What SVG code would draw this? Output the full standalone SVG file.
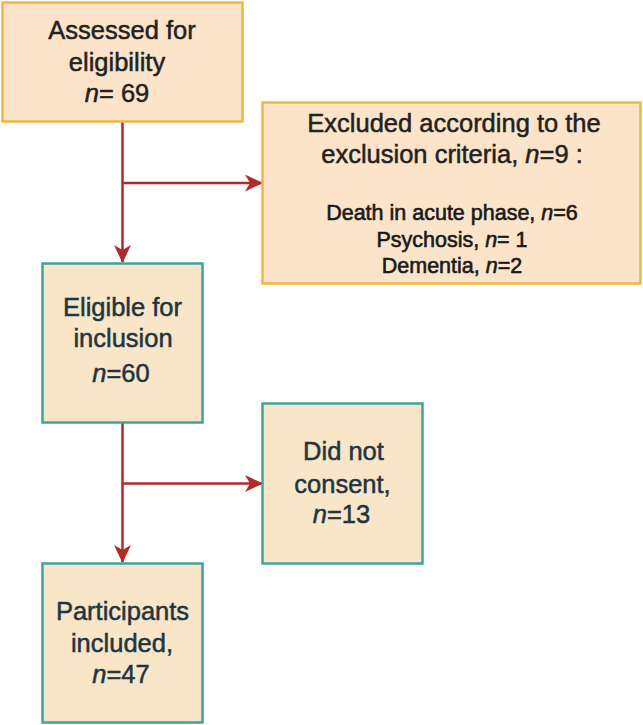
<svg xmlns="http://www.w3.org/2000/svg" width="643" height="725" viewBox="0 0 643 725">
  <style>
    .bg { fill: #ffffff; }
    .orange { fill: #FCE4CA; stroke: #EDB83F; stroke-width: 2.5; }
    .teal { fill: #F9E5C8; stroke: #3FA39E; stroke-width: 2.5; }
    .t { font-family: "Liberation Sans", Arial, sans-serif; font-size: 25.5px; text-anchor: middle; fill: #222222; stroke: #222222; stroke-width: 0.5; }
    .tt { fill: #1F3540; stroke: #1F3540; }
    .s { font-family: "Liberation Sans", Arial, sans-serif; font-size: 21.5px; text-anchor: middle; fill: #1a1a1a; stroke: #1a1a1a; stroke-width: 0.6; }
    .i { font-style: italic; }
    .conn { fill: none; stroke: #B02A2A; stroke-width: 2.5; }
  </style>
  <defs>
    <marker id="arrow" markerUnits="userSpaceOnUse" viewBox="0 0 18 17" markerWidth="18" markerHeight="17" refX="17" refY="8.5" orient="auto">
      <path d="M0,0 L18,8.5 L0,17 L5,8.5 z" fill="#B02A2A"/>
    </marker>
  </defs>
  <rect class="bg" x="0" y="0" width="643" height="725"/>

  <g id="connectors">
    <path class="conn" d="M122.5,122 V262" marker-end="url(#arrow)"/>
    <path class="conn" d="M122.5,183 H262" marker-end="url(#arrow)"/>
    <path class="conn" d="M122.5,423 V562" marker-end="url(#arrow)"/>
    <path class="conn" d="M122.5,483.5 H262" marker-end="url(#arrow)"/>
  </g>

  <g id="assessed">
    <rect class="orange" x="2.5" y="2.5" width="240" height="119"/>
    <text class="t" x="122" y="39">Assessed for</text>
    <text class="t" x="117" y="71">eligibility</text>
    <text class="t" x="117" y="102"><tspan class="i">n</tspan>= 69</text>
  </g>

  <g id="excluded">
    <rect class="orange" x="262.5" y="102.5" width="378" height="181"/>
    <text class="t" x="454" y="132">Excluded according to the</text>
    <text class="t" x="452" y="163">exclusion criteria, <tspan class="i">n</tspan>=9 :</text>
    <text class="s" x="452" y="220">Death in acute phase, <tspan class="i">n</tspan>=6</text>
    <text class="s" x="452" y="247">Psychosis, <tspan class="i">n</tspan>= 1</text>
    <text class="s" x="452" y="273">Dementia, <tspan class="i">n</tspan>=2</text>
  </g>

  <g id="eligible">
    <rect class="teal" x="42.5" y="263.5" width="160" height="159"/>
    <text class="t tt" x="122.5" y="316">Eligible for</text>
    <text class="t tt" x="123" y="347">inclusion</text>
    <text class="t tt" x="121" y="382"><tspan class="i">n</tspan>=60</text>
  </g>

  <g id="noconsent">
    <rect class="teal" x="262.5" y="403.5" width="160" height="160"/>
    <text class="t tt" x="343.5" y="460">Did not</text>
    <text class="t tt" x="342.5" y="493">consent,</text>
    <text class="t tt" x="341.5" y="523"><tspan class="i">n</tspan>=13</text>
  </g>

  <g id="participants">
    <rect class="teal" x="42.5" y="563.5" width="160" height="159"/>
    <text class="t tt" x="122.5" y="620">Participants</text>
    <text class="t tt" x="122" y="652">included,</text>
    <text class="t tt" x="121" y="683"><tspan class="i">n</tspan>=47</text>
  </g>
</svg>
